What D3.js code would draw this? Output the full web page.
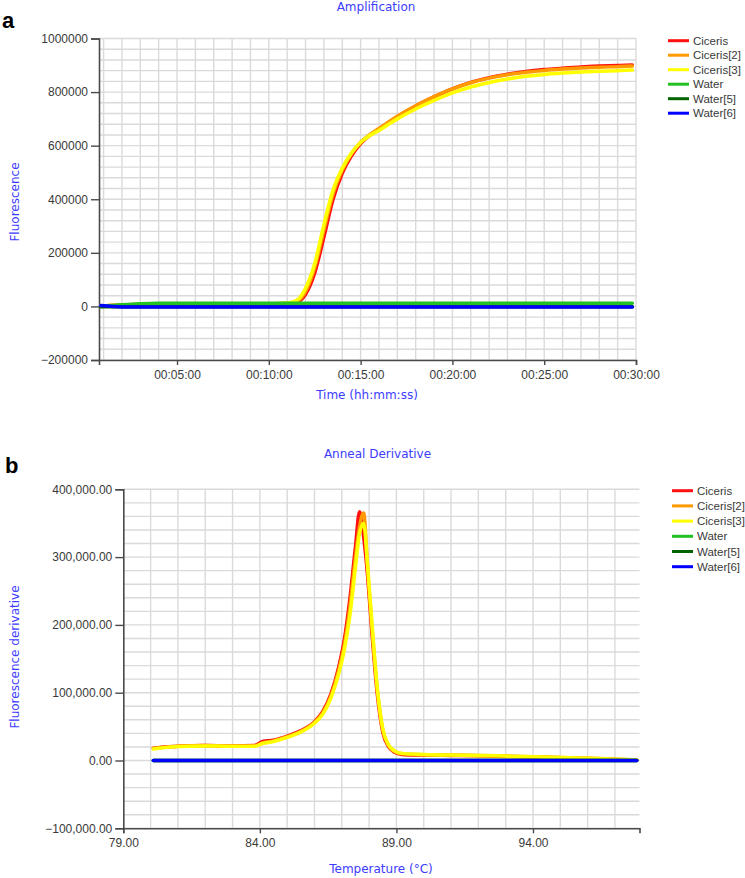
<!DOCTYPE html>
<html>
<head>
<meta charset="utf-8">
<script src="https://cdn.jsdelivr.net/npm/d3@7"></script>
<style>
  html, body { margin: 0; padding: 0; background: #fff; }
  svg { display: block; }
</style>
</head>
<body>
<svg id="chart" width="745" height="878"></svg>
<script>
// ---------- DATA ----------
const seriesNames = ["Ciceris", "Ciceris[2]", "Ciceris[3]", "Water", "Water[5]", "Water[6]"];
const seriesColors = ["#ff1010", "#ff9900", "#ffff00", "#22c022", "#006400", "#0000ff"];

// Panel a: Amplification (time in minutes)
const ampTime = [0.85, 2, 3, 4, 6, 8, 10, 11, 11.5, 12, 12.5, 13, 13.5, 14, 14.5, 15, 15.5, 16, 17, 18, 19, 20, 21, 22, 23, 24, 25, 26, 27, 28, 29, 29.8];
const ampCiceris  = [2000,5000,7000,9000,9000,9000,10000,11000,15000,45000,125000,259000,400000,497000,562000,608000,638000,662000,708000,748000,782000,812000,836000,854000,867000,877000,884000,889000,894000,897000,899000,901000];
const ampCiceris2 = [2000,5000,7000,9000,9000,9000,10000,12000,18000,55000,145000,285000,420000,508000,570000,613000,641000,664000,710000,749000,783000,812000,835000,852000,865000,874000,881000,886000,890000,893000,895000,897000];
const ampCiceris3 = [2000,5000,7000,9000,9000,9000,10000,13000,22000,68000,160000,305000,435000,516000,573000,612000,638000,657000,700000,737000,769000,797000,819000,836000,849000,859000,866000,871000,875000,878000,880000,882000];
const ampWater    = [0,6000,10000,12000,12000,12000,12000,12000,12000,12000,12000,12000,12000,12000,12000,12000,12000,12000,12000,12000,12000,12000,12000,12000,12000,12000,12000,12000,12000,12000,12000,12000];
const ampWater5   = [-1000,-1000,-1000,-1000,-1000,-1000,-1000,-1000,-1000,-1000,-1000,-1000,-1000,-1000,-1000,-1000,-1000,-1000,-1000,-1000,-1000,-1000,-1000,-1000,-1000,-1000,-1000,-1000,-1000,-1000,-1000,-1000];
const ampWater6   = [3000,-2000,-2000,-2000,-2000,-2000,-2000,-2000,-2000,-2000,-2000,-2000,-2000,-2000,-2000,-2000,-2000,-2000,-2000,-2000,-2000,-2000,-2000,-2000,-2000,-2000,-2000,-2000,-2000,-2000,-2000,-2000];
const ampYTicks = [-200000, 0, 200000, 400000, 600000, 800000, 1000000];
const ampXTicks = [5, 10, 15, 20, 25, 30];
const ampXTickLabels = ["00:05:00", "00:10:00", "00:15:00", "00:20:00", "00:25:00", "00:30:00"];

// Panel b: Anneal Derivative (temperature °C)
const meltTemp = [80.1, 80.5, 81, 82, 83, 83.8, 84.1, 84.5, 85, 85.5, 86, 86.3, 86.6, 86.9, 87.1, 87.3, 87.5, 87.65, 87.8, 87.95, 88.1, 88.3, 88.5, 88.7, 88.9, 89.2, 90, 91, 92, 93, 94, 95, 96, 97, 97.8];
const meltCiceris  = [18000,20000,21000,22000,21500,22000,28000,30000,36000,44000,57000,72000,98000,140000,180000,240000,315000,367000,330000,270000,190000,98000,42000,21000,13000,9000,8000,7500,7000,6000,5000,4000,3000,1500,500];
const meltCiceris2 = [18000,19500,21000,22000,21000,21500,26000,29000,35000,43000,56000,70000,95000,135000,172000,228000,300000,345000,365000,280000,198000,104000,45000,23000,14000,10000,8500,8000,7500,6500,5500,4500,3500,2000,800];
const meltCiceris3 = [17000,19000,20500,21500,21000,21000,25000,28000,34000,42000,55000,68000,92000,130000,165000,215000,285000,335000,350000,285000,205000,107000,47000,24000,15000,10500,9000,8000,7500,6500,5500,4500,3500,2000,800];
const meltWater  = [0,0,0,0,0,0,0,0,0,0,0,0,0,0,0,0,0,0,0,0,0,0,0,0,0,0,0,0,0,0,0,0,0,0,0];
const meltWater5 = [0,0,0,0,0,0,0,0,0,0,0,0,0,0,0,0,0,0,0,0,0,0,0,0,0,0,0,0,0,0,0,0,0,0,0];
const meltWater6 = [0,0,0,0,0,0,0,0,0,0,0,0,0,0,0,0,0,0,0,0,0,0,0,0,0,0,0,0,0,0,0,0,0,0,0];
const meltYTicks = [-100000, 0, 100000, 200000, 300000, 400000];
const meltXTicks = [79, 84, 89, 94];

// ---------- DRAW ----------
const svg = d3.select("#chart");
const titleColor = "#3c3cff";
const tickColor = "#3a3a3a";
const gridColor = "#dadada";
const axisColor = "#4a4a4a";

function drawPanel(cfg) {
  const g = svg.append("g");
  const x = d3.scaleLinear().domain(cfg.xDomain).range([cfg.left, cfg.right]);
  const y = d3.scaleLinear().domain(cfg.yDomain).range([cfg.bottom, cfg.top]);

  // grid
  const gg = g.append("g").attr("stroke", gridColor).attr("stroke-width", 1.4);
  cfg.xGrid.forEach(v => gg.append("line").attr("x1", x(v)).attr("x2", x(v)).attr("y1", cfg.top).attr("y2", cfg.bottom));
  cfg.yGrid.forEach(v => gg.append("line").attr("x1", cfg.left).attr("x2", cfg.right).attr("y1", y(v)).attr("y2", y(v)));

  // axes
  const yAxis = d3.axisLeft(y).tickValues(cfg.yTicks).tickSize(8).tickPadding(3).tickFormat(cfg.yFormat);
  const ya = g.append("g").attr("transform", `translate(${cfg.left},0)`).call(yAxis);
  const xAxis = d3.axisBottom(x).tickValues(cfg.xTicks).tickSize(5).tickPadding(5).tickFormat(cfg.xFormat);
  const xa = g.append("g").attr("transform", `translate(0,${cfg.bottom})`).call(xAxis);
  [ya, xa].forEach(a => {
    a.select(".domain").attr("stroke", axisColor).attr("stroke-width", 1.6);
    a.selectAll(".tick line").attr("stroke", axisColor).attr("stroke-width", 1.4);
    a.selectAll(".tick text").attr("fill", tickColor).attr("font-family", "Liberation Sans, Arial, sans-serif").attr("font-size", 12);
  });

  // lines
  const line = d3.line().x(d => x(d[0])).y(d => y(d[1])).curve(d3.curveMonotoneX);
  cfg.series.forEach((vals, i) => {
    const pts = cfg.xs.map((t, j) => [t, vals[j]]);
    g.append("path").datum(pts).attr("d", line).attr("fill", "none")
      .attr("stroke", seriesColors[i]).attr("stroke-width", cfg.lineWidth)
      .attr("stroke-linejoin", "round").attr("stroke-linecap", "round");
  });

  // titles
  g.append("text").attr("x", cfg.titleX).attr("y", cfg.titleY).attr("text-anchor", "middle")
    .attr("font-family", "DejaVu Sans, sans-serif").attr("font-size", 12).attr("fill", titleColor).text(cfg.title);
  g.append("text").attr("x", cfg.xLabelX).attr("y", cfg.xLabelY).attr("text-anchor", "middle")
    .attr("font-family", "DejaVu Sans, sans-serif").attr("font-size", 12).attr("fill", titleColor).text(cfg.xLabel);
  g.append("text").attr("transform", `translate(${cfg.yLabelX},${cfg.yLabelY}) rotate(-90)`).attr("text-anchor", "middle")
    .attr("font-family", "DejaVu Sans, sans-serif").attr("font-size", 12).attr("fill", titleColor).text(cfg.yLabel);

  // panel letter
  g.append("text").attr("x", cfg.letterX).attr("y", cfg.letterY)
    .attr("font-family", "Liberation Sans, Arial, sans-serif").attr("font-weight", "bold").attr("font-size", 22)
    .attr("fill", "#000").text(cfg.letter);

  // legend
  const lg = g.append("g");
  seriesNames.forEach((n, i) => {
    const yy = cfg.legendY + i * cfg.legendStep;
    lg.append("line").attr("x1", cfg.legendX).attr("x2", cfg.legendX + 21).attr("y1", yy).attr("y2", yy)
      .attr("stroke", seriesColors[i]).attr("stroke-width", 3);
    lg.append("text").attr("x", cfg.legendX + 25).attr("y", yy + 4)
      .attr("font-family", "Liberation Sans, Arial, sans-serif").attr("font-size", 11.5).attr("fill", tickColor).text(n);
  });
}

drawPanel({
  xs: ampTime,
  series: [ampCiceris, ampCiceris2, ampCiceris3, ampWater, ampWater5, ampWater6],
  xDomain: [0.75, 30], yDomain: [-200000, 1000000],
  left: 99, right: 636, top: 38.5, bottom: 360,
  xGrid: d3.range(1, 31), yGrid: d3.range(-200000, 1000001, 40000),
  yTicks: ampYTicks, xTicks: ampXTicks,
  yFormat: d3.format("d"),
  xFormat: (d, i) => ampXTickLabels[i],
  lineWidth: 3.5,
  title: "Amplification", titleX: 376, titleY: 11,
  xLabel: "Time (hh:mm:ss)", xLabelX: 367, xLabelY: 399,
  yLabel: "Fluorescence", yLabelX: 19, yLabelY: 202,
  letter: "a", letterX: 2, letterY: 28,
  legendX: 668, legendY: 40.7, legendStep: 14.5
});

drawPanel({
  xs: meltTemp,
  series: [meltCiceris, meltCiceris2, meltCiceris3, meltWater, meltWater5, meltWater6],
  xDomain: [79, 97.9], yDomain: [-100000, 400000],
  left: 123.3, right: 639.5, top: 489.3, bottom: 828.3,
  xGrid: d3.range(80, 98), yGrid: d3.range(-100000, 400001, 20000),
  yTicks: meltYTicks, xTicks: meltXTicks,
  yFormat: d3.format(",.2f"),
  xFormat: d3.format(".2f"),
  lineWidth: 3.5,
  title: "Anneal Derivative", titleX: 377.5, titleY: 458,
  xLabel: "Temperature (°C)", xLabelX: 381, xLabelY: 873,
  yLabel: "Fluorescence derivative", yLabelX: 19, yLabelY: 657,
  letter: "b", letterX: 5, letterY: 473,
  legendX: 672, legendY: 490.7, legendStep: 15.2
});
</script>
</body>
</html>
